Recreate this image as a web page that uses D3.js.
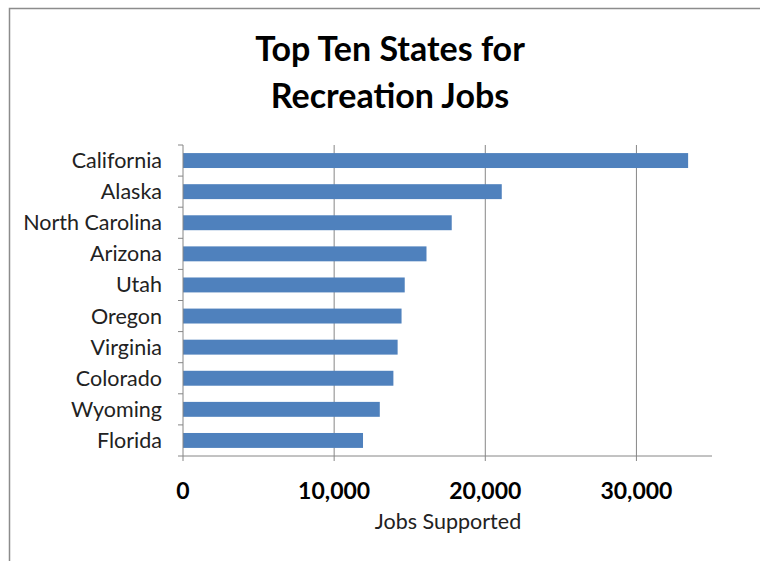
<!DOCTYPE html>
<html>
<head>
<meta charset="utf-8">
<script src="https://cdn.jsdelivr.net/npm/d3@7"></script>
<style>
  html, body { margin: 0; padding: 0; background: #fff; }
  svg { display: block; }
</style>
</head>
<body>
<svg id="chart" width="760" height="561"></svg>
<script>
const states = ["California", "Alaska", "North Carolina", "Arizona", "Utah", "Oregon", "Virginia", "Colorado", "Wyoming", "Florida"];
const jobs = [33420, 21090, 17780, 16110, 14670, 14460, 14200, 13920, 13020, 11910];
const tickValues = [0, 10000, 20000, 30000];
const titleLines = ["Top Ten States for", "Recreation Jobs"];
const xTitle = "Jobs Supported";

(function () {
const font = "Lato, 'Open Sans', sans-serif";
const svg = d3.select("#chart");

// outer border (top and left visible)
svg.append("rect").attr("x", 9.5).attr("y", 8.5).attr("width", 800).attr("height", 600)
  .attr("fill", "none").attr("stroke", "#8c8c8c").attr("stroke-width", 1.5);

const pLeft = 183, pRight = 712, pTop = 145, pBottom = 456;

const x = d3.scaleLinear().domain([0, 35000]).range([pLeft, pRight]);
const y = d3.scaleBand().domain(states).range([pTop, pBottom]).paddingInner(0.52).paddingOuter(0.26);

// gridlines
svg.append("g").selectAll("line").data(tickValues.filter(d => d > 0)).join("line")
  .attr("x1", d => x(d)).attr("x2", d => x(d)).attr("y1", pTop).attr("y2", pBottom)
  .attr("stroke", "#868686").attr("stroke-width", 1);

// bars
svg.append("g").selectAll("rect").data(states).join("rect")
  .attr("x", x(0)).attr("y", d => y(d))
  .attr("width", (d, i) => x(jobs[i]) - x(0))
  .attr("height", y.bandwidth())
  .attr("fill", "#4F81BD");

// y axis
const step = (pBottom - pTop) / states.length;
const yAxis = svg.append("g");
yAxis.append("line").attr("x1", pLeft).attr("x2", pLeft).attr("y1", pTop).attr("y2", pBottom)
  .attr("stroke", "#868686");
yAxis.selectAll("line.tk").data(d3.range(states.length + 1)).join("line").attr("class", "tk")
  .attr("x1", pLeft - 5).attr("x2", pLeft).attr("y1", i => pTop + i * step).attr("y2", i => pTop + i * step)
  .attr("stroke", "#868686");
yAxis.selectAll("text").data(states).join("text")
  .attr("x", pLeft - 21).attr("y", d => y(d) + y.bandwidth() / 2)
  .attr("dy", "0.35em").attr("text-anchor", "end")
  .attr("font-family", font).attr("font-size", 21.5).attr("fill", "#222")
  .text(d => d);

// x axis
const xAxis = svg.append("g");
xAxis.append("line").attr("x1", pLeft).attr("x2", pRight).attr("y1", pBottom).attr("y2", pBottom)
  .attr("stroke", "#868686");
xAxis.selectAll("line.tk").data(tickValues).join("line").attr("class", "tk")
  .attr("x1", d => x(d)).attr("x2", d => x(d)).attr("y1", pBottom).attr("y2", pBottom + 5)
  .attr("stroke", "#868686");
xAxis.selectAll("text").data(tickValues).join("text")
  .attr("x", d => x(d)).attr("y", 499).attr("text-anchor", "middle")
  .attr("font-family", font).attr("font-size", 23).attr("font-weight", "bold").attr("fill", "#000")
  .text(d => d3.format(",")(d));

svg.append("text").attr("x", 448).attr("y", 529).attr("text-anchor", "middle")
  .attr("font-family", font).attr("font-size", 21.5).attr("fill", "#222").text(xTitle);

// title
svg.append("g").selectAll("text").data(titleLines).join("text")
  .attr("x", 390).attr("y", (d, i) => 61 + i * 47).attr("text-anchor", "middle")
  .attr("font-family", font).attr("font-size", 34).attr("font-weight", "bold").attr("fill", "#000")
  .text(d => d);
})();
</script>
</body>
</html>
